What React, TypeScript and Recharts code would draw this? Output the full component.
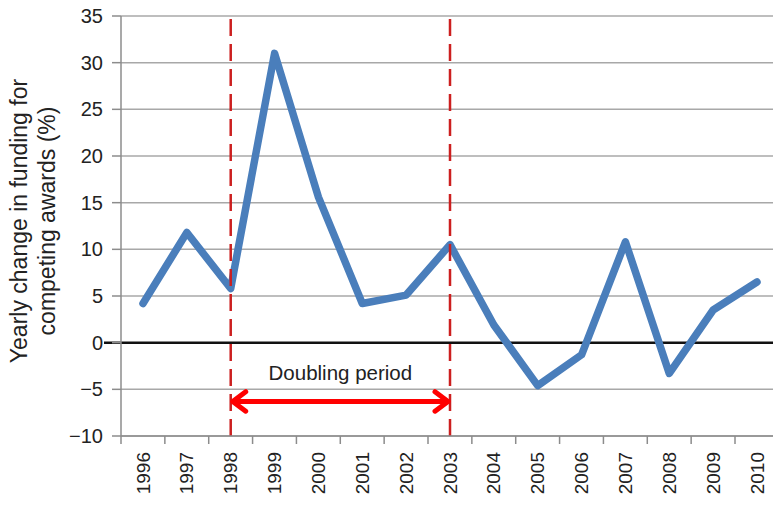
import React from 'react';
import {
  LineChart,
  Line,
  XAxis,
  YAxis,
  CartesianGrid,
  ReferenceLine,
  Label,
} from 'recharts';

const years = ['1996', '1997', '1998', '1999', '2000', '2001', '2002', '2003', '2004', '2005', '2006', '2007', '2008', '2009', '2010'];
const changes = [4.2, 11.8, 5.8, 31.0, 15.6, 4.2, 5.1, 10.5, 1.9, -4.6, -1.3, 10.8, -3.3, 3.5, 6.5];
const yTicks = [-10, -5, 0, 5, 10, 15, 20, 25, 30, 35];
const titleLines = ['Yearly change in funding for', 'competing awards (%)'];
const doubling = { start: '1998', end: '2003', level: -6.3, label: 'Doubling period' };

const data = years.map((year, i) => ({ year, change: changes[i] }));

const FONT = '"Liberation Sans", Arial, Helvetica, sans-serif';
const TICK_SIZE = 8;
const TICK_MARGIN = 8;
// half of one category slot, so ticks sit between the years like the original
const HALF_BAND = 22;

function YearTick(props: any) {
  const { x, y, payload } = props;
  const axisY = y - TICK_SIZE - TICK_MARGIN;
  return (
    <g>
      <line x1={x - HALF_BAND} x2={x - HALF_BAND} y1={axisY} y2={axisY + TICK_SIZE} stroke="#8c8c8c" strokeWidth={1.5} />
      <text
        x={x}
        y={y}
        dy="0.35em"
        textAnchor="end"
        transform={`rotate(-90, ${x}, ${y})`}
        fontSize={19}
        fontFamily={FONT}
        fill="#222"
      >
        {payload.value}
      </text>
    </g>
  );
}

function YTitle(props: any) {
  const { viewBox } = props;
  const cy = viewBox.y + viewBox.height / 2 - 5;
  return (
    <text transform={`translate(27, ${cy}) rotate(-90)`} textAnchor="middle" fontSize={23} fontFamily={FONT} fill="#222">
      <tspan x={0} dy={0}>{titleLines[0]}</tspan>
      <tspan x={0} dy={28}>{titleLines[1]}</tspan>
    </text>
  );
}

function ZeroLine(props: any) {
  const { x1, x2, y1, y2 } = props;
  return <line x1={x1 - 17} x2={x2} y1={y1} y2={y2} stroke="#111" strokeWidth={2.5} />;
}

function DoublingArrow(props: any) {
  const { x1, x2, y1 } = props;
  const head = 13;
  const cx = (x1 + x2) / 2;
  return (
    <g>
      <text x={cx} y={y1 - 21} textAnchor="middle" fontSize={20.5} fontFamily={FONT} fill="#222">
        {doubling.label}
      </text>
      <line x1={x1 + 2} x2={x2 - 2} y1={y1} y2={y1} stroke="#ff0000" strokeWidth={5} />
      <polyline
        points={`${x1 + head + 2},${y1 - head * 0.75} ${x1 + 2},${y1} ${x1 + head + 2},${y1 + head * 0.75}`}
        fill="none"
        stroke="#ff0000"
        strokeWidth={5}
        strokeLinecap="round"
        strokeLinejoin="round"
      />
      <polyline
        points={`${x2 - head - 2},${y1 - head * 0.75} ${x2 - 2},${y1} ${x2 - head - 2},${y1 + head * 0.75}`}
        fill="none"
        stroke="#ff0000"
        strokeWidth={5}
        strokeLinecap="round"
        strokeLinejoin="round"
      />
    </g>
  );
}

export default function App() {
  return (
    <div style={{ position: 'fixed', left: 0, top: 0, width: 773, height: 506, overflow: 'hidden', background: '#fff' }}>
      <LineChart
        width={800}
        height={506}
        data={data}
        margin={{ top: 16, right: 21, left: 0, bottom: 0 }}
      >
        <CartesianGrid vertical={false} stroke="#a8a8a8" strokeWidth={1.5} />
        <XAxis
          dataKey="year"
          height={70}
          padding={{ left: HALF_BAND, right: HALF_BAND }}
          tickSize={TICK_SIZE}
          tickMargin={TICK_MARGIN}
          tickLine={false}
          tick={<YearTick />}
          interval={0}
          axisLine={{ stroke: '#8c8c8c', strokeWidth: 1.5 }}
        />
        <YAxis
          width={121}
          domain={[-10, 35]}
          ticks={yTicks}
          interval={0}
          tickSize={9}
          tickMargin={9}
          tick={{ fontSize: 20, fill: '#222', fontFamily: FONT }}
          tickLine={{ stroke: '#8c8c8c', strokeWidth: 1.5 }}
          axisLine={{ stroke: '#8c8c8c', strokeWidth: 1.5 }}
          tickFormatter={(v: number) => String(v).replace('-', '\u2212')}
        >
          <Label content={<YTitle />} />
        </YAxis>
        <ReferenceLine y={0} shape={<ZeroLine />} ifOverflow="visible" />
        <Line
          type="linear"
          dataKey="change"
          stroke="#4a7ebb"
          strokeWidth={7.5}
          strokeLinejoin="round"
          strokeLinecap="round"
          dot={false}
          activeDot={false}
          isAnimationActive={false}
        />
        <ReferenceLine x={doubling.start} stroke="#cc1f1f" strokeWidth={2.5} strokeDasharray="17 8" />
        <ReferenceLine x={doubling.end} stroke="#cc1f1f" strokeWidth={2.5} strokeDasharray="17 8" />
        <ReferenceLine
          segment={[
            { x: doubling.start, y: doubling.level },
            { x: doubling.end, y: doubling.level },
          ]}
          shape={<DoublingArrow />}
        />
      </LineChart>
    </div>
  );
}
